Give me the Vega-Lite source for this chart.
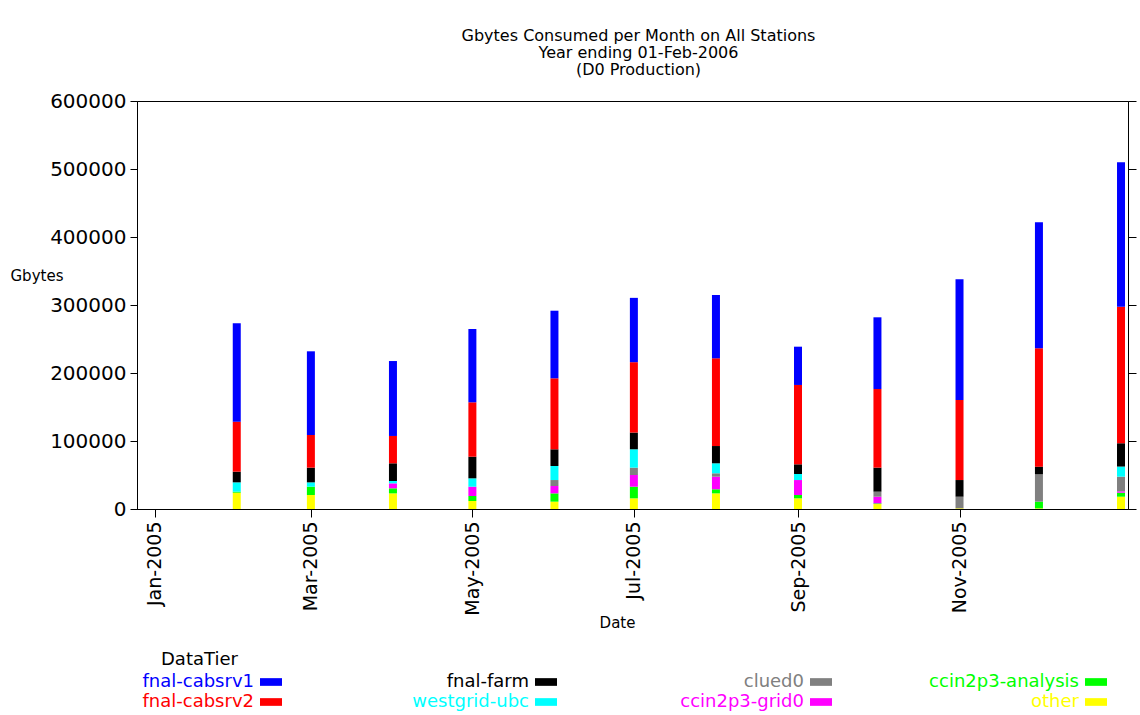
{
  "$schema": "https://vega.github.io/schema/vega-lite/v6.json",
  "width": 991,
  "height": 408,
  "autosize": "none",
  "padding": {"left": 137, "top": 101, "right": 12, "bottom": 206},
  "background": "white",
  "config": {
    "font": "DejaVu Sans",
    "view": {"stroke": "black", "strokeWidth": 1},
    "axis": {"grid": false, "domainColor": "black", "tickColor": "black", "labelColor": "black", "titleColor": "black", "titleFontWeight": "normal", "labelFont": "DejaVu Sans", "titleFont": "DejaVu Sans"}
  },
  "title": {
    "text": ["Gbytes Consumed per Month on All Stations", "Year ending 01-Feb-2006", "(D0 Production)"],
    "fontSize": 16, "fontWeight": "normal", "lineHeight": 17, "anchor": "middle", "offset": 13, "color": "black", "font": "DejaVu Sans", "dx": 6
  },
  "data": {"values": [
    {"month": "2005-02-01", "tier": "other", "gb": 24000},
    {"month": "2005-02-01", "tier": "ccin2p3-analysis", "gb": 1500},
    {"month": "2005-02-01", "tier": "westgrid-ubc", "gb": 13700},
    {"month": "2005-02-01", "tier": "fnal-farm", "gb": 15700},
    {"month": "2005-02-01", "tier": "fnal-cabsrv2", "gb": 73500},
    {"month": "2005-02-01", "tier": "fnal-cabsrv1", "gb": 144600},
    {"month": "2005-03-01", "tier": "other", "gb": 20600},
    {"month": "2005-03-01", "tier": "ccin2p3-analysis", "gb": 12200},
    {"month": "2005-03-01", "tier": "westgrid-ubc", "gb": 6400},
    {"month": "2005-03-01", "tier": "fnal-farm", "gb": 21600},
    {"month": "2005-03-01", "tier": "fnal-cabsrv2", "gb": 48000},
    {"month": "2005-03-01", "tier": "fnal-cabsrv1", "gb": 123100},
    {"month": "2005-04-01", "tier": "other", "gb": 23000},
    {"month": "2005-04-01", "tier": "ccin2p3-analysis", "gb": 7400},
    {"month": "2005-04-01", "tier": "ccin2p3-grid0", "gb": 7300},
    {"month": "2005-04-01", "tier": "westgrid-ubc", "gb": 3500},
    {"month": "2005-04-01", "tier": "fnal-farm", "gb": 26000},
    {"month": "2005-04-01", "tier": "fnal-cabsrv2", "gb": 40200},
    {"month": "2005-04-01", "tier": "fnal-cabsrv1", "gb": 110200},
    {"month": "2005-05-01", "tier": "other", "gb": 11800},
    {"month": "2005-05-01", "tier": "ccin2p3-analysis", "gb": 7300},
    {"month": "2005-05-01", "tier": "ccin2p3-grid0", "gb": 13700},
    {"month": "2005-05-01", "tier": "westgrid-ubc", "gb": 12300},
    {"month": "2005-05-01", "tier": "fnal-farm", "gb": 31800},
    {"month": "2005-05-01", "tier": "fnal-cabsrv2", "gb": 80000},
    {"month": "2005-05-01", "tier": "fnal-cabsrv1", "gb": 107800},
    {"month": "2005-06-01", "tier": "other", "gb": 10800},
    {"month": "2005-06-01", "tier": "ccin2p3-analysis", "gb": 12200},
    {"month": "2005-06-01", "tier": "ccin2p3-grid0", "gb": 10800},
    {"month": "2005-06-01", "tier": "clued0", "gb": 8800},
    {"month": "2005-06-01", "tier": "westgrid-ubc", "gb": 20600},
    {"month": "2005-06-01", "tier": "fnal-farm", "gb": 24600},
    {"month": "2005-06-01", "tier": "fnal-cabsrv2", "gb": 104400},
    {"month": "2005-06-01", "tier": "fnal-cabsrv1", "gb": 99400},
    {"month": "2005-07-01", "tier": "other", "gb": 15700},
    {"month": "2005-07-01", "tier": "ccin2p3-analysis", "gb": 17100},
    {"month": "2005-07-01", "tier": "ccin2p3-grid0", "gb": 17200},
    {"month": "2005-07-01", "tier": "clued0", "gb": 10800},
    {"month": "2005-07-01", "tier": "westgrid-ubc", "gb": 27000},
    {"month": "2005-07-01", "tier": "fnal-farm", "gb": 24600},
    {"month": "2005-07-01", "tier": "fnal-cabsrv2", "gb": 103500},
    {"month": "2005-07-01", "tier": "fnal-cabsrv1", "gb": 94600},
    {"month": "2005-08-01", "tier": "other", "gb": 23000},
    {"month": "2005-08-01", "tier": "ccin2p3-analysis", "gb": 6000},
    {"month": "2005-08-01", "tier": "ccin2p3-grid0", "gb": 18500},
    {"month": "2005-08-01", "tier": "clued0", "gb": 5000},
    {"month": "2005-08-01", "tier": "westgrid-ubc", "gb": 14700},
    {"month": "2005-08-01", "tier": "fnal-farm", "gb": 25400},
    {"month": "2005-08-01", "tier": "fnal-cabsrv2", "gb": 129000},
    {"month": "2005-08-01", "tier": "fnal-cabsrv1", "gb": 93100},
    {"month": "2005-09-01", "tier": "other", "gb": 15700},
    {"month": "2005-09-01", "tier": "ccin2p3-analysis", "gb": 4900},
    {"month": "2005-09-01", "tier": "ccin2p3-grid0", "gb": 22000},
    {"month": "2005-09-01", "tier": "westgrid-ubc", "gb": 8900},
    {"month": "2005-09-01", "tier": "fnal-farm", "gb": 14200},
    {"month": "2005-09-01", "tier": "fnal-cabsrv2", "gb": 116700},
    {"month": "2005-09-01", "tier": "fnal-cabsrv1", "gb": 56300},
    {"month": "2005-10-01", "tier": "other", "gb": 7300},
    {"month": "2005-10-01", "tier": "ccin2p3-analysis", "gb": 1000},
    {"month": "2005-10-01", "tier": "ccin2p3-grid0", "gb": 9800},
    {"month": "2005-10-01", "tier": "clued0", "gb": 7400},
    {"month": "2005-10-01", "tier": "fnal-farm", "gb": 35300},
    {"month": "2005-10-01", "tier": "fnal-cabsrv2", "gb": 115700},
    {"month": "2005-10-01", "tier": "fnal-cabsrv1", "gb": 105400},
    {"month": "2005-11-01", "tier": "other", "gb": 1000},
    {"month": "2005-11-01", "tier": "clued0", "gb": 17100},
    {"month": "2005-11-01", "tier": "fnal-farm", "gb": 24500},
    {"month": "2005-11-01", "tier": "fnal-cabsrv2", "gb": 117700},
    {"month": "2005-11-01", "tier": "fnal-cabsrv1", "gb": 177500},
    {"month": "2005-12-01", "tier": "other", "gb": 1000},
    {"month": "2005-12-01", "tier": "ccin2p3-analysis", "gb": 9800},
    {"month": "2005-12-01", "tier": "clued0", "gb": 40200},
    {"month": "2005-12-01", "tier": "fnal-farm", "gb": 11300},
    {"month": "2005-12-01", "tier": "fnal-cabsrv2", "gb": 174000},
    {"month": "2005-12-01", "tier": "fnal-cabsrv1", "gb": 185300},
    {"month": "2006-01-01", "tier": "other", "gb": 18100},
    {"month": "2006-01-01", "tier": "ccin2p3-analysis", "gb": 5900},
    {"month": "2006-01-01", "tier": "ccin2p3-grid0", "gb": 2000},
    {"month": "2006-01-01", "tier": "clued0", "gb": 21600},
    {"month": "2006-01-01", "tier": "westgrid-ubc", "gb": 14800},
    {"month": "2006-01-01", "tier": "fnal-farm", "gb": 34300},
    {"month": "2006-01-01", "tier": "fnal-cabsrv2", "gb": 200900},
    {"month": "2006-01-01", "tier": "fnal-cabsrv1", "gb": 212300}
  ]},
  "transform": [
    {"calculate": "indexof(['other','ccin2p3-analysis','ccin2p3-grid0','clued0','westgrid-ubc','fnal-farm','fnal-cabsrv2','fnal-cabsrv1'], datum.tier)", "as": "stackRank"}
  ],
  "layer": [
    {
      "mark": {"type": "bar", "size": 8},
      "encoding": {
        "x": {
          "field": "month", "type": "temporal",
          "scale": {"type": "utc", "domain": [
            {"year": 2004, "month": 12, "date": 27, "hours": 5, "utc": true},
            {"year": 2006, "month": 1, "date": 1, "hours": 18, "utc": true}
          ]},
          "axis": {
            "values": [
              {"year": 2005, "month": 1, "date": 1, "utc": true},
              {"year": 2005, "month": 3, "date": 1, "utc": true},
              {"year": 2005, "month": 5, "date": 1, "utc": true},
              {"year": 2005, "month": 7, "date": 1, "utc": true},
              {"year": 2005, "month": 9, "date": 1, "utc": true},
              {"year": 2005, "month": 11, "date": 1, "utc": true}
            ],
            "format": "%b-%Y", "labelAngle": 270, "labelAlign": "right", "labelBaseline": "middle",
            "labelFontSize": 19, "tickSize": 8, "labelPadding": 4, "labelFlush": false, "labelOverlap": false,
            "title": "Date", "titleFontSize": 15, "titleX": 480, "titleY": 113, "titleAlign": "center", "titleBaseline": "middle"
          }
        },
        "y": {
          "field": "gb", "type": "quantitative",
          "scale": {"domain": [0, 600000], "nice": false},
          "axis": {
            "values": [0, 100000, 200000, 300000, 400000, 500000, 600000],
            "format": "d", "labelFontSize": 20, "tickSize": 7, "labelPadding": 4,
            "title": "Gbytes", "titleFontSize": 15, "titleAngle": 0, "titleX": -127, "titleY": 174, "titleAlign": "left", "titleBaseline": "middle"
          }
        },
        "color": {
          "field": "tier", "type": "nominal",
          "scale": {
            "domain": ["fnal-cabsrv1", "fnal-farm", "clued0", "ccin2p3-analysis", "fnal-cabsrv2", "westgrid-ubc", "ccin2p3-grid0", "other"],
            "range": ["#0000ff", "#000000", "#808080", "#00ff00", "#ff0000", "#00ffff", "#ff00ff", "#ffff00"]
          },
          "legend": {
            "orient": "none", "legendX": -96, "legendY": 550,
            "direction": "horizontal", "columns": 4, "columnPadding": 34, "rowPadding": 0,
            "title": "DataTier", "titleFontSize": 18, "titleFontWeight": "normal", "titleColor": "black", "titlePadding": 2, "titleFont": "DejaVu Sans",
            "labelFontSize": 18, "labelLimit": 250, "labelFont": "DejaVu Sans",
            "symbolType": "M-20,0M-1,-0.35H1V0.35H-1Z", "symbolSize": 484, "symbolStrokeWidth": 0,
            "encode": {
              "labels": {"update": {"fill": {"scale": "color", "field": "value"}, "x": {"value": 213}, "align": {"value": "right"}}},
              "symbols": {"update": {"x": {"value": 230}}},
              "title": {"update": {"dx": {"value": 120}}}
            }
          }
        },
        "order": {"field": "stackRank", "type": "quantitative"}
      }
    },
    {
      "mark": {"type": "rule", "opacity": 0},
      "encoding": {
        "y": {
          "datum": 0, "type": "quantitative",
          "axis": {"orient": "right", "labels": false, "title": null, "values": [0, 100000, 200000, 300000, 400000, 500000, 600000], "tickSize": 8}
        }
      }
    }
  ],
  "resolve": {"axis": {"y": "independent"}}
}
